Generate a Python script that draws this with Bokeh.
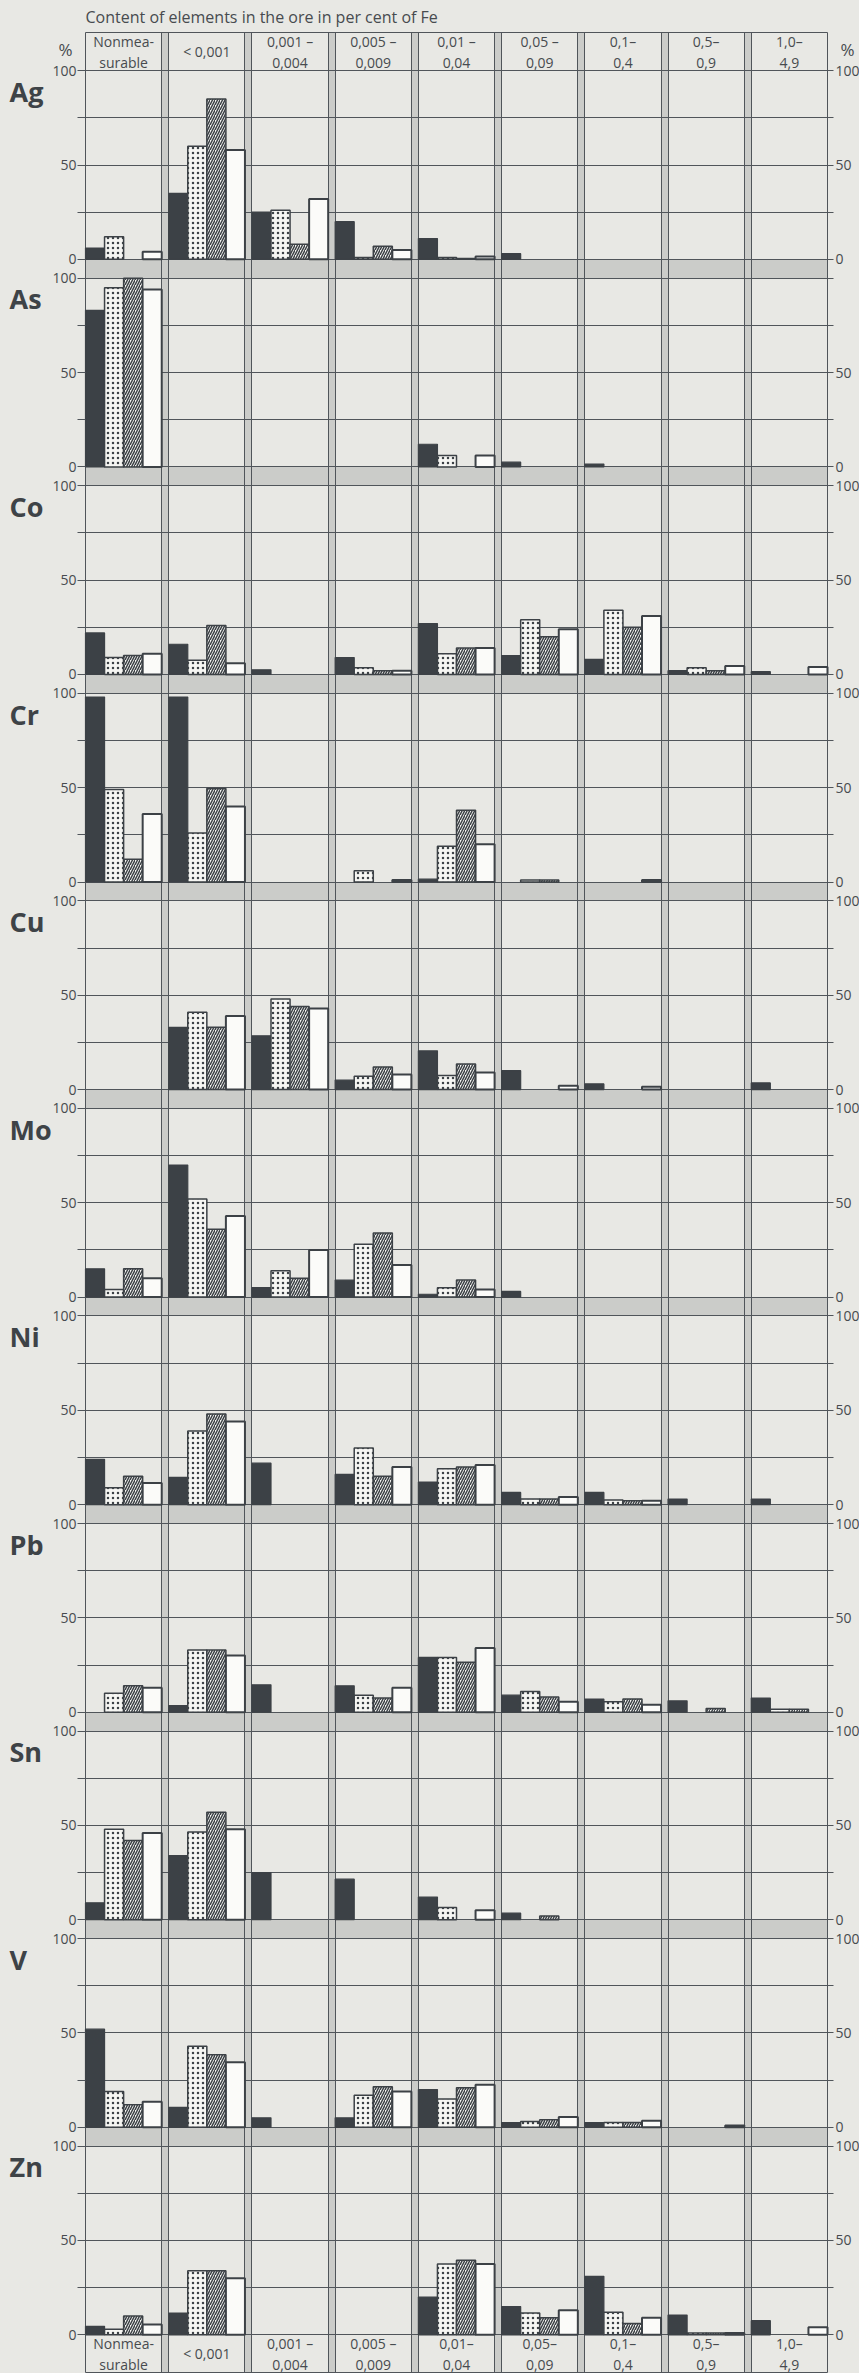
from bokeh.plotting import figure
from bokeh.models import (Range1d, LinearAxis, FixedTicker, Grid,
                          ColumnDataSource, GlobalInlineStyleSheet)
from bokeh.core.properties import value
from bokeh.embed import file_html
from bokeh.resources import INLINE

# ---------------- data ----------------
title_text = "Content of elements in the ore in per cent of Fe"
elements = ["Ag", "As", "Co", "Cr", "Cu", "Mo", "Ni", "Pb", "Sn", "V", "Zn"]
top_labels = ["Nonmea-\nsurable", "< 0,001", "0,001 –\n0,004", "0,005 –\n0,009",
              "0,01 –\n0,04", "0,05 –\n0,09", "0,1–\n0,4", "0,5–\n0,9", "1,0–\n4,9"]
bottom_labels = ["Nonmea-\nsurable", "< 0,001", "0,001 –\n0,004", "0,005 –\n0,009",
                 "0,01–\n0,04", "0,05–\n0,09", "0,1–\n0,4", "0,5–\n0,9", "1,0–\n4,9"]
tick_values = [0, 50, 100]
minor_values = [25, 75]
unit_sign = "%"

solid = {
    "Ag": [6, 35, 25, 20, 11, 3, 0, 0, 0],
    "As": [83, 0, 0, 0, 12, 2.5, 1.5, 0, 0],
    "Co": [22, 16, 2.5, 9, 27, 10, 8, 2, 1.5],
    "Cr": [98, 98, 0, 0, 1.5, 0, 0, 0, 0],
    "Cu": [0, 33, 28.5, 5, 20.5, 10, 3, 0, 3.5],
    "Mo": [15, 70, 5, 9, 1.5, 3, 0, 0, 0],
    "Ni": [24, 14.5, 22, 16, 12, 6.5, 6.5, 3, 3],
    "Pb": [0, 3.5, 14.5, 14, 29, 9, 7, 6, 7.5],
    "Sn": [9, 34, 25, 21.5, 12, 3.5, 0, 0, 0],
    "V":  [52, 10.5, 5, 5, 20, 2.5, 2.5, 0, 0],
    "Zn": [4.5, 11.5, 0, 0, 20, 15, 31, 10.5, 7.5],
}
dotted = {
    "Ag": [12, 60, 26, 1, 1, 0, 0, 0, 0],
    "As": [95, 0, 0, 0, 6, 0, 0, 0, 0],
    "Co": [9, 7.5, 0, 3.5, 11, 29, 34, 3.5, 0],
    "Cr": [49, 26, 0, 6, 19, 1, 0, 0, 0],
    "Cu": [0, 41, 48, 7, 7.5, 0, 0, 0, 0],
    "Mo": [4, 52, 14, 28, 5, 0, 0, 0, 0],
    "Ni": [9, 39, 0, 30, 19, 3, 2.5, 0, 0],
    "Pb": [10, 33, 0, 9, 29, 11, 5.5, 0, 1.5],
    "Sn": [48, 46.5, 0, 0, 6.5, 0, 0, 0, 0],
    "V":  [19, 43, 0, 17, 15, 3, 2.5, 0, 0],
    "Zn": [3, 34, 0, 0, 37.5, 11.5, 12, 1, 0],
}
hatched = {
    "Ag": [0, 85, 8, 7, 0.5, 0, 0, 0, 0],
    "As": [100, 0, 0, 0, 0, 0, 0, 0, 0],
    "Co": [10, 26, 0, 2, 14, 20, 25, 2, 0],
    "Cr": [12, 49.5, 0, 0, 38, 1, 0, 0, 0],
    "Cu": [0, 33, 44, 12, 13.5, 0, 0, 0, 0],
    "Mo": [15, 36, 10, 34, 9, 0, 0, 0, 0],
    "Ni": [15, 48, 0, 15, 20, 3, 2, 0, 0],
    "Pb": [14, 33, 0, 7.5, 26.5, 8, 7, 2, 1.5],
    "Sn": [42, 57, 0, 0, 0, 2, 0, 0, 0],
    "V":  [12, 38.5, 0, 21.5, 21, 4, 2.5, 0, 0],
    "Zn": [10, 34, 0, 0, 39.5, 9, 6, 1, 0],
}
white = {
    "Ag": [4, 58, 32, 5, 1.5, 0, 0, 0, 0],
    "As": [94, 0, 0, 0, 6, 0, 0, 0, 0],
    "Co": [11, 6, 0, 2, 14, 24, 31, 4.5, 4],
    "Cr": [36, 40, 0, 1, 20, 0, 1, 0, 0],
    "Cu": [0, 39, 43, 8, 9, 2, 1.5, 0, 0],
    "Mo": [10, 43, 25, 17, 4, 0, 0, 0, 0],
    "Ni": [11.5, 44, 0, 20, 21, 4, 2, 0, 0],
    "Pb": [13, 30, 0, 13, 34, 5.5, 4, 0, 0],
    "Sn": [46, 48, 0, 0, 5, 0, 0, 0, 0],
    "V":  [13.5, 34.5, 0, 19, 22.5, 5.5, 3.5, 1, 0],
    "Zn": [5.5, 30, 0, 0, 37.5, 13, 9, 1, 4],
}
# elements whose right-hand "100" label is not printed
right_missing_100 = ["As"]

# ---------------- layout constants ----------------
PAPER = "#e8e8e4"
STRIP = "#cbccc9"
LINE = "#50555a"
DARK = "#3c4146"
TEXT = "#474b4f"
FONT = "Open Sans"

W, H = 859, 2373
LEFT_PX, RIGHT_PX, TOP_PX = 85, 32, 30      # margins around the chart box
N_COL = len(top_labels)
COL_W = 0.916
X_MAX = (N_COL - 1) + COL_W
PXU = (W - LEFT_PX - RIGHT_PX) / X_MAX       # pixels per x unit
XL, XR = -LEFT_PX / PXU, X_MAX + RIGHT_PX / PXU

BAND = 10
PERIOD = 100 + BAND
BOTTOM = 20
HEADER = 20
n_el = len(elements)
Y_MAX = BOTTOM + (n_el - 1) * PERIOD + 100 + HEADER
Y_TOP = Y_MAX + 1.3
Y_BOT = -0.5
PYU = (H - TOP_PX) / (Y_TOP - Y_BOT)


def base(i):
    return BOTTOM + (n_el - 1 - i) * PERIOD


p = figure(width=W, height=H,
           x_range=Range1d(XL, XR), y_range=Range1d(Y_BOT, Y_TOP),
           x_axis_location=None, y_axis_location=None,
           toolbar_location=None, output_backend="svg",
           min_border_left=0, min_border_right=0, min_border_top=TOP_PX, min_border_bottom=0,
           background_fill_color=PAPER, border_fill_color=PAPER,
           outline_line_color=None, title=title_text)
p.stylesheets = [GlobalInlineStyleSheet(css="html, body { background-color: %s; }" % PAPER)]
p.grid.visible = False

p.title.align = "left"
p.title.offset = LEFT_PX
p.title.standoff = 5
p.title.text_font = FONT
p.title.text_font_style = "normal"
p.title.text_font_size = "16px"
p.title.text_color = TEXT

# gray strips between columns and bands between panels
strips = ColumnDataSource(dict(
    left=[i + COL_W for i in range(N_COL - 1)],
    right=[i + 1 for i in range(N_COL - 1)],
    bottom=[0] * (N_COL - 1),
    top=[Y_MAX] * (N_COL - 1)))
p.quad(left="left", right="right", bottom="bottom", top="top", source=strips,
       fill_color=STRIP, line_color=None, level="image")
bands = ColumnDataSource(dict(
    left=[0] * (n_el - 1), right=[X_MAX] * (n_el - 1),
    bottom=[base(i) - BAND for i in range(n_el - 1)],
    top=[base(i) for i in range(n_el - 1)]))
p.quad(left="left", right="right", bottom="bottom", top="top", source=bands,
       fill_color=STRIP, line_color=None, level="image")

# grid lines (the chart box)
hticks = sorted(set([base(i) + g for i in range(n_el) for g in [0] + minor_values + [50, 100]]
                    + [0, Y_MAX]))
vticks = sorted([0, X_MAX] + [i + COL_W for i in range(N_COL - 1)] + [i + 1 for i in range(N_COL - 1)])
hgrid = Grid(dimension=1, ticker=FixedTicker(ticks=hticks), grid_line_color=LINE, grid_line_width=1)
vgrid = Grid(dimension=0, ticker=FixedTicker(ticks=vticks), grid_line_color=LINE, grid_line_width=1)
has_cross = "cross_bounds" in Grid.properties()
if has_cross:
    hgrid.cross_bounds = (0, X_MAX)
    vgrid.cross_bounds = (0, Y_MAX)
p.add_layout(hgrid)
p.add_layout(vgrid)
if not has_cross:
    masks = ColumnDataSource(dict(left=[XL, X_MAX], right=[0, XR],
                                  bottom=[Y_BOT, Y_BOT], top=[Y_TOP, Y_TOP]))
    p.quad(left="left", right="right", bottom="bottom", top="top", source=masks,
           fill_color=PAPER, line_color=None)

# bars
series = [
    (solid, dict(fill_color=DARK, line_color=DARK, line_width=1.2)),
    (dotted, dict(fill_color="#f6f6f3", hatch_pattern="dot", hatch_color=DARK,
                  hatch_scale=5, hatch_weight=2, line_color=DARK, line_width=1.5)),
    (hatched, dict(fill_color="#f6f6f3", hatch_pattern="right_diagonal_line", hatch_color=DARK,
                   hatch_scale=5, hatch_weight=1.5, line_color=DARK, line_width=1.5)),
    (white, dict(fill_color="#fbfbf9", line_color=DARK, line_width=2)),
]
bw = COL_W / 4
for k, (data, style) in enumerate(series):
    L, R, B, T = [], [], [], []
    for i, el in enumerate(elements):
        for c, v in enumerate(data[el]):
            if v > 0:
                L.append(c + k * bw)
                R.append(c + (k + 1) * bw)
                B.append(base(i))
                T.append(base(i) + v)
    src = ColumnDataSource(dict(left=L, right=R, bottom=B, top=T))
    p.quad(left="left", right="right", bottom="bottom", top="top", source=src, **style)

# column labels at top and bottom
p.text(x=[c + COL_W / 2 for c in range(N_COL)], y=[Y_MAX - HEADER / 2] * N_COL, text=top_labels,
       text_align="center", text_baseline="middle", text_font=value(FONT),
       text_font_size="14px", text_color=TEXT, text_line_height=1.1)
p.text(x=[c + COL_W / 2 for c in range(N_COL)], y=[BOTTOM / 2] * N_COL, text=bottom_labels,
       text_align="center", text_baseline="middle", text_font=value(FONT),
       text_font_size="14px", text_color=TEXT, text_line_height=1.1)

# element names (left of the chart box) and % signs
p.text(x=[(9 - LEFT_PX) / PXU] * n_el, y=[base(i) + 100 - 11 for i in range(n_el)], text=elements,
       text_align="left", text_baseline="middle", text_font=value(FONT),
       text_font_size="27px", text_font_style="bold", text_color="#3e4347")
y_pct = Y_TOP - (48.5 - TOP_PX) / PYU
p.text(x=[(72 - LEFT_PX) / PXU, X_MAX + 13 / PXU], y=[y_pct, y_pct], text=[unit_sign, unit_sign],
       text_align=["right", "left"], text_baseline="middle", text_font=value(FONT),
       text_font_size="17px", text_color=TEXT)

# axes (drawn at the edges of the chart box)
lticks = [base(i) + v for i in range(n_el) for v in tick_values]
mticks = [base(i) + v for i in range(n_el) for v in minor_values]
loverrides = {base(i) + v: str(v) for i in range(n_el) for v in tick_values}
roverrides = {base(i) + v: ("" if (v == 100 and el in right_missing_100) else str(v))
              for i, el in enumerate(elements) for v in tick_values}

common = dict(axis_line_color=None, major_tick_in=0, minor_tick_in=0,
              major_tick_line_color=LINE, minor_tick_line_color=LINE,
              major_label_text_font=FONT, major_label_text_font_size="14px",
              major_label_text_color=TEXT)
left_axis = LinearAxis(fixed_location=0, ticker=FixedTicker(ticks=lticks, minor_ticks=mticks),
                       major_label_overrides=loverrides, major_tick_out=8, minor_tick_out=8,
                       major_label_standoff=1, **common)
p.add_layout(left_axis, "left")
right_axis = LinearAxis(fixed_location=X_MAX, ticker=FixedTicker(ticks=lticks, minor_ticks=mticks),
                        major_label_overrides=roverrides, major_tick_out=6, minor_tick_out=6,
                        major_label_standoff=2, **common)
p.add_layout(right_axis, "right")

open("out.html", "w").write(file_html(p, INLINE))
